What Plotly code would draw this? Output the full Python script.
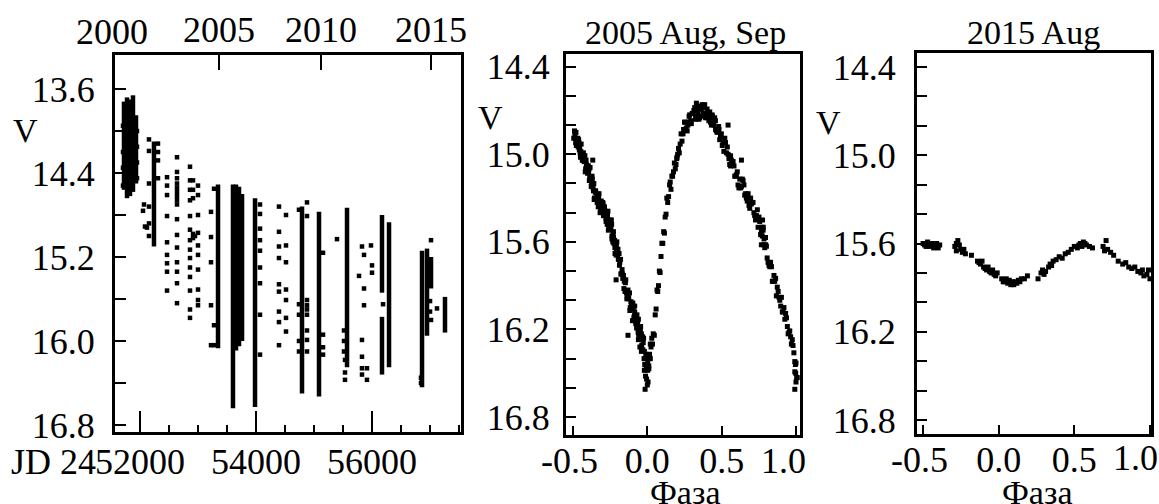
import plotly.graph_objects as go

# the page body margin is removed in the written page, so the figure fills the 1159x504 window
OX, OY = 0, 0
W, H = 1159, 504
FONT = "Liberation Serif, Times New Roman, serif"
FS = 34      # titles / labels
FT = 36      # tick labels

# ---------------- Panel 1: long-term light curve (JD 2450000+) ----------------
# dense season streaks: JD, brightest V, faintest V
seg_jd = [51724, 51776, 51828, 51879, 51931, 52241, 53345, 53603, 53655, 53707, 53759,
          53983, 54793, 55086, 55569, 56172, 56172, 56293, 56862, 56948, 57017, 57258]
seg_v_top = [13.72, 13.68, 13.70, 13.66, 13.85, 14.10, 14.51, 14.51, 14.51, 14.53, 14.60,
             14.64, 14.72, 14.77, 14.73, 14.80, 15.77, 14.87, 15.14, 15.12, 15.20, 15.58]
seg_v_bot = [14.56, 14.64, 14.62, 14.58, 14.50, 15.10, 16.07, 16.64, 16.09, 16.05, 16.00,
             16.63, 16.50, 16.53, 16.25, 15.54, 16.32, 16.25, 16.44, 15.95, 15.50, 15.92]

# isolated points, grouped by JD
grp_jd = [51707, 51948, 52052, 52069, 52086, 52120, 52155, 52310,
          52466, 52638, 52862, 52914, 52948, 53000,
          53224, 53276, 54069, 54396, 54517, 54741, 54879,
          55155, 55396, 55517, 55534,
          55776, 55827, 55862, 55913, 55982, 56000,
          56190, 56844, 57000, 57017, 57120]
grp_v = [
    [13.95, 14.20, 14.35, 14.52],
    [14.00, 14.15, 14.30, 14.45],
    [14.76], [14.70], [14.91], [14.92],
    [14.08, 14.19, 14.50, 14.72, 14.88, 15.00],
    [14.12, 14.20, 14.28, 14.45],
    [14.44, 14.52, 14.61, 14.81, 15.06, 15.18, 15.26, 15.34, 15.52],
    [14.25, 14.39, 14.45, 14.50, 14.54, 14.58, 14.62, 14.66, 14.70, 14.84, 14.99, 15.11, 15.25, 15.34, 15.45, 15.64],
    [14.34, 14.47, 14.56, 14.66, 14.81, 14.94, 15.04, 15.13, 15.21, 15.30, 15.39, 15.52, 15.70, 15.78],
    [14.47, 14.56, 14.64, 14.98, 15.02],
    [15.00],
    [14.52, 14.61, 14.80, 14.97, 15.09, 15.18, 15.32, 15.51, 15.61, 15.66],
    [14.77, 15.01, 15.25, 15.66, 16.04],
    [14.55, 15.85, 16.04],
    [14.70, 14.79, 14.93, 15.04, 15.14, 15.30, 15.45, 15.75, 16.13],
    [14.72, 14.96, 15.10, 15.21, 15.46, 15.53, 15.72, 15.82, 16.04],
    [14.80, 15.09, 15.25, 15.51, 15.61, 15.78, 15.91],
    [14.75, 15.65, 15.75, 16.00, 16.10],
    [14.68, 14.81, 15.61, 15.66, 15.70, 15.75, 15.90, 15.99, 16.10],
    [15.16, 15.94, 16.06, 16.13],
    [15.03],
    [15.90, 16.00, 16.10],
    [16.18, 16.30, 16.37],
    [15.38],
    [15.10, 15.99, 16.15, 16.26, 16.32],
    [15.18, 15.50, 15.66],
    [16.26, 16.37],
    [15.09],
    [15.28, 15.35],
    [15.65],
    [16.35, 16.40],
    [15.62, 15.72],
    [15.04, 15.80],
    [15.69],
]

jd_major = [52000, 54000, 56000]
jd_major_text = ["52000", "54000", "56000"]
jd_minor = [52500, 53000, 53500, 54500, 55000, 55500, 56500, 57000, 57500]
year_tick_jd = [53362, 55121, 57017]
year_text = ["2005", "2010", "2015"]
v1_ticks = [13.6, 14.0, 14.4, 14.8, 15.2, 15.6, 16.0, 16.4, 16.8]
v1_text = ["13.6", "", "14.4", "", "15.2", "", "16.0", "", "16.8"]

# ---------------- Panel 2: 2005 Aug, Sep phased ----------------
ph05 = [
    -0.495, -0.490, -0.485, -0.480, -0.475, -0.470, -0.465, -0.460, -0.455, -0.450, -0.445, -0.440,
    -0.435, -0.430, -0.425, -0.420, -0.415, -0.410, -0.405, -0.400, -0.395, -0.390, -0.385, -0.380,
    -0.375, -0.370, -0.365, -0.360, -0.355, -0.350, -0.345, -0.340, -0.335, -0.330, -0.325, -0.320,
    -0.315, -0.310, -0.305, -0.300, -0.295, -0.290, -0.285, -0.280, -0.275, -0.270, -0.265, -0.260,
    -0.255, -0.250, -0.245, -0.240, -0.235, -0.230, -0.225, -0.220, -0.215, -0.210, -0.205, -0.200,
    -0.195, -0.190, -0.185, -0.180, -0.175, -0.170, -0.165, -0.160, -0.155, -0.150, -0.145, -0.140,
    -0.135, -0.130, -0.125, -0.120, -0.115, -0.110, -0.105, -0.100, -0.095, -0.090, -0.085, -0.080,
    -0.075, -0.070, -0.065, -0.060, -0.055, -0.050, -0.045, -0.040, -0.035, -0.030, -0.025, -0.020,
    -0.015, -0.010, -0.005, 0.000, 0.005,
    -0.4875, -0.4775, -0.4675, -0.4575, -0.4475, -0.4375, -0.4275, -0.4175, -0.4075, -0.3975,
    -0.3875, -0.3775, -0.3675, -0.3575, -0.3475, -0.3375, -0.3275, -0.3175, -0.3075, -0.2975,
    -0.2875, -0.2775, -0.2675, -0.2575, -0.2475, -0.2375, -0.2275, -0.2175, -0.2075, -0.1975,
    -0.1875, -0.1775, -0.1675, -0.1575, -0.1475, -0.1375, -0.1275, -0.1175, -0.1075, -0.0975,
    -0.0875, -0.0775, -0.0675, -0.0575, -0.0475, -0.0375, -0.0275, -0.0175, -0.0075, 0.0025,
    -0.015, 0.000, -0.005, 0.010, 0.015, 0.020, -0.020, -0.040, -0.060, -0.130, -0.210, -0.367,
    -0.100, -0.050,
    -0.298, -0.288, -0.278, -0.268, -0.258, -0.248, -0.238, -0.228, -0.218, -0.208, -0.262, -0.242,
    -0.232, -0.482, -0.462, -0.452, -0.432, -0.412, -0.402, -0.392, -0.372, -0.362,
    -0.085, -0.072, -0.062, -0.045, -0.032, -0.022, -0.012, 0.002, 0.008,
    0.010, 0.015, 0.020, 0.025, 0.030, 0.035, 0.040, 0.047, 0.053, 0.059, 0.065, 0.070,
    0.075, 0.081, 0.086, 0.092, 0.098, 0.104, 0.110, 0.115, 0.120, 0.126, 0.131, 0.137,
    0.143, 0.150, 0.159, 0.170, 0.182, 0.193, 0.204, 0.215, 0.227, 0.240, 0.250, 0.262,
    0.273, 0.285, 0.296, 0.308, 0.319, 0.330, 0.341, 0.352, 0.363, 0.375, 0.386, 0.397,
    0.408, 0.420, 0.431, 0.442, 0.453, 0.464, 0.476, 0.487, 0.498, 0.509, 0.521, 0.532,
    0.543, 0.554, 0.565, 0.577, 0.588, 0.599, 0.610, 0.622, 0.633, 0.644, 0.655, 0.666,
    0.678, 0.689, 0.700, 0.711, 0.722, 0.734, 0.745, 0.756, 0.767, 0.779, 0.790, 0.801,
    0.812, 0.824, 0.835, 0.846, 0.857, 0.868, 0.880, 0.891, 0.902, 0.913, 0.925, 0.936,
    0.947, 0.958, 0.969, 0.980, 0.992, 1.000, 1.005, 1.008,
    0.165, 0.188, 0.210, 0.233, 0.256, 0.279, 0.302, 0.325, 0.347, 0.369, 0.392, 0.414,
    0.437, 0.459, 0.482, 0.504, 0.526, 0.549, 0.571, 0.594, 0.616, 0.639, 0.661, 0.684,
    0.706, 0.728, 0.751, 0.773, 0.796, 0.818, 0.841, 0.863, 0.886, 0.908, 0.930, 0.953,
    0.975, 0.996,
    0.268, 0.281, 0.292, 0.313, 0.324, 0.336, 0.344, 0.357, 0.368, 0.380, 0.392, 0.402,
    0.414, 0.425, 0.436, 0.448, 0.458, 0.470, 0.480, 0.492,
    0.515, 0.538, 0.560, 0.583, 0.605, 0.628, 0.650, 0.672, 0.695, 0.717, 0.740, 0.762,
    0.772, 0.784, 0.795, 0.806, 0.829, 0.852, 0.874, 0.897, 0.919, 0.942, 0.964, 0.986, 0.998,
    0.154, 0.176, 0.198, 0.221, 0.244,
    0.330, 0.543, 0.633, 0.767, 0.992, 0.992, 0.560, 0.200, 1.000, 0.780, 0.785, 0.775,
]
v05 = [
    14.89, 14.84, 14.89, 14.85, 14.94, 14.91, 14.95, 14.92, 14.96, 15.02, 14.93, 15.02,
    15.04, 14.99, 15.05, 15.01, 15.10, 15.07, 15.11, 15.08, 15.12, 15.18, 15.09, 15.18,
    15.21, 15.17, 15.23, 15.20, 15.30, 15.26, 15.30, 15.27, 15.30, 15.36, 15.27, 15.35,
    15.37, 15.32, 15.37, 15.33, 15.42, 15.38, 15.42, 15.39, 15.42, 15.48, 15.39, 15.47,
    15.49, 15.45, 15.51, 15.48, 15.58, 15.55, 15.61, 15.59, 15.62, 15.69, 15.60, 15.69,
    15.72, 15.68, 15.74, 15.72, 15.82, 15.79, 15.85, 15.83, 15.87, 15.94, 15.86, 15.95,
    15.98, 15.93, 15.99, 15.95, 16.05, 16.01, 16.05, 16.02, 16.06, 16.12, 16.04, 16.12,
    16.15, 16.10, 16.16, 16.13, 16.23, 16.20, 16.25, 16.23, 16.27, 16.34, 16.26, 16.35,
    16.40, 16.37, 16.46, 16.45, 16.56,
    14.86, 14.94, 14.89, 14.97, 14.98, 15.04, 15.01, 15.12, 15.09, 15.08,
    15.16, 15.22, 15.21, 15.31, 15.25, 15.33, 15.30, 15.40, 15.36, 15.34,
    15.42, 15.46, 15.43, 15.51, 15.51, 15.58, 15.57, 15.68, 15.65, 15.65,
    15.76, 15.82, 15.82, 15.92, 15.88, 15.99, 15.96, 16.07, 16.03, 16.02,
    16.11, 16.16, 16.14, 16.24, 16.20, 16.31, 16.29, 16.44, 16.46, 16.42,
    16.61, 16.58, 16.54, 16.45, 16.38, 16.30, 16.48, 16.35, 16.27, 16.24, 15.86, 15.04,
    16.14, 16.32,
    15.40, 15.36, 15.44, 15.40, 15.50, 15.47, 15.56, 15.53, 15.64, 15.62, 15.52, 15.45,
    15.60, 14.92, 14.90, 14.99, 15.03, 15.04, 15.13, 15.10, 15.15, 15.25,
    16.08, 16.19, 16.22, 16.18, 16.25, 16.40, 16.52, 16.48, 16.40,
    16.47, 16.37, 16.40, 16.32, 16.26, 16.30, 16.23, 16.24, 16.10, 16.06, 15.93, 15.94,
    15.90, 15.80, 15.81, 15.70, 15.61, 15.61, 15.53, 15.54, 15.43, 15.41, 15.30, 15.33,
    15.29, 15.21, 15.24, 15.15, 15.06, 15.07, 15.00, 14.99, 14.86, 14.86, 14.78, 14.82,
    14.80, 14.73, 14.79, 14.72, 14.68, 14.74, 14.71, 14.75, 14.69, 14.72, 14.66, 14.74,
    14.75, 14.71, 14.80, 14.76, 14.75, 14.84, 14.83, 14.90, 14.86, 14.92, 14.89, 14.99,
    15.00, 15.07, 15.04, 15.05, 15.15, 15.14, 15.21, 15.17, 15.22, 15.18, 15.28, 15.30,
    15.27, 15.37, 15.34, 15.33, 15.42, 15.42, 15.50, 15.46, 15.53, 15.52, 15.64, 15.63,
    15.74, 15.77, 15.77, 15.87, 15.87, 15.97, 15.94, 16.00, 15.98, 16.08, 16.13, 16.12,
    16.23, 16.21, 16.30, 16.31, 16.42, 16.43, 16.53, 16.53,
    15.15, 15.10, 14.96, 14.91, 14.78, 14.78, 14.72, 14.74, 14.76, 14.66, 14.72, 14.77,
    14.74, 14.83, 14.83, 14.94, 14.92, 15.03, 15.05, 15.15, 15.23, 15.17, 15.27, 15.35,
    15.33, 15.45, 15.43, 15.56, 15.62, 15.76, 15.87, 15.85, 15.98, 16.08, 16.09, 16.22,
    16.27, 16.44,
    14.84, 14.74, 14.77, 14.70, 14.76, 14.68, 14.74, 14.67, 14.74, 14.68, 14.75, 14.69,
    14.72, 14.78, 14.73, 14.80, 14.77, 14.85, 14.81, 14.88,
    14.98, 14.95, 15.01, 15.08, 15.12, 15.23, 15.21, 15.32, 15.30, 15.40, 15.38, 15.55,
    15.50, 15.62, 15.57, 15.71, 15.74, 15.83, 15.91, 16.04, 16.05, 16.18, 16.25, 16.36, 16.50,
    15.19, 15.12, 15.03, 14.93, 14.83,
    14.65, 14.80, 15.04, 15.62, 16.61, 16.49, 15.08, 15.02, 16.56, 15.50, 15.58, 15.45,
]

# ---------------- Panel 3: 2015 Aug phased ----------------
ph15 = [-0.50, -0.49, -0.48, -0.47, -0.46, -0.45, -0.44, -0.43, -0.42, -0.41, -0.40, -0.39,
        -0.29, -0.28, -0.28, -0.27, -0.26, -0.25, -0.24, -0.23, -0.22,
        -0.18, -0.14, -0.13, -0.12, -0.11, -0.10, -0.09, -0.08, -0.07, -0.06, -0.05, -0.04, -0.03, -0.02, -0.01,
        0.02, 0.03, 0.04, 0.05, 0.06, 0.07, 0.08, 0.09, 0.10, 0.11, 0.12, 0.13, 0.14, 0.15, 0.17, 0.19,
        0.26, 0.28, 0.29, 0.30, 0.31, 0.33, 0.34, 0.35, 0.36, 0.38, 0.40, 0.42, 0.44, 0.46, 0.48, 0.50, 0.52,
        0.53, 0.54, 0.55, 0.56, 0.57, 0.58, 0.60, 0.62,
        0.69, 0.70, 0.71, 0.72, 0.74, 0.76,
        0.79, 0.82, 0.84, 0.86, 0.88, 0.90, 0.92, 0.94, 0.95, 0.96, 0.98, 1.00, 0.99]
v15 = [15.60, 15.61, 15.62, 15.59, 15.62, 15.61, 15.60, 15.63, 15.62, 15.60, 15.63, 15.61,
       15.62, 15.65, 15.60, 15.58, 15.61, 15.64, 15.66, 15.64, 15.67,
       15.68, 15.72, 15.73, 15.74, 15.72, 15.76, 15.77, 15.78, 15.76, 15.79, 15.80, 15.78, 15.81, 15.82, 15.80,
       15.84, 15.86, 15.86, 15.84, 15.87, 15.85, 15.88, 15.86, 15.88, 15.86, 15.87, 15.85, 15.86, 15.84, 15.84, 15.82,
       15.84, 15.80, 15.78, 15.81, 15.79, 15.76, 15.74, 15.75, 15.72, 15.71, 15.69, 15.70, 15.67, 15.66, 15.64, 15.62, 15.63,
       15.61, 15.60, 15.62, 15.59, 15.60, 15.61, 15.62, 15.63,
       15.62, 15.65, 15.58, 15.64, 15.66, 15.68,
       15.72, 15.74, 15.73, 15.76, 15.77, 15.76, 15.79, 15.80, 15.78, 15.82, 15.81, 15.84, 15.78]

ph_ticks = [-0.5, 0.0, 0.5, 1.0]
ph_text = ["-0.5\u2009", "0.0", "0.5", "1.0\u2002\u2009"]
ph_text3 = ["-0.5\u2009", "0.0", "0.5", ""]   # last label placed inside the window below
v23_ticks = [14.4, 14.6, 14.8, 15.0, 15.2, 15.4, 15.6, 15.8, 16.0, 16.2, 16.4, 16.6, 16.8]
v23_text = ["14.4", "", "", "15.0", "", "", "15.6", "", "", "16.2", "", "", "16.8"]

# ---------------- figure ----------------
def px(x):
    return (x - OX) / W


def py(y):
    return 1 - (y - OY) / H


fig = go.Figure()

sx, sy = [], []
for j, a, b in zip(seg_jd, seg_v_top, seg_v_bot):
    sx += [j, j, None]
    sy += [a, b, None]
fig.add_trace(go.Scatter(x=sx, y=sy, mode="lines", line=dict(color="black", width=4.5),
                         xaxis="x", yaxis="y", hoverinfo="skip"))

px1, py1 = [], []
for j, vs in zip(grp_jd, grp_v):
    for v in vs:
        px1.append(j)
        py1.append(v)
mk = dict(symbol="square", size=4.5, color="black", line=dict(width=0))
mk2 = dict(symbol="square", size=5, color="black", line=dict(width=0))
fig.add_trace(go.Scatter(x=px1, y=py1, mode="markers", marker=mk, xaxis="x", yaxis="y"))
fig.add_trace(go.Scatter(x=[seg_jd[0]], y=[seg_v_top[0]], mode="markers",
                         marker=dict(size=1, opacity=0), xaxis="x4", yaxis="y", hoverinfo="skip"))
fig.add_trace(go.Scatter(x=ph05, y=v05, mode="markers", marker=mk2, xaxis="x2", yaxis="y2"))
fig.add_trace(go.Scatter(x=ph15, y=v15, mode="markers", marker=mk2, xaxis="x3", yaxis="y3"))

tf = dict(family=FONT, size=FT, color="black")
lf = dict(family=FONT, size=FS, color="black")
ax_common = dict(showline=True, linecolor="black", linewidth=3, mirror=True, showgrid=False,
                 zeroline=False, ticks="inside", tickcolor="black", tickwidth=2, tickfont=tf,
                 automargin=False)

x1r = [51569, 57534]
fig.update_layout(
    width=W, height=H, margin=dict(l=0, r=0, t=0, b=0, autoexpand=False),
    paper_bgcolor="white", plot_bgcolor="white", showlegend=False,
    xaxis=dict(ax_common, domain=[px(115), px(461)], range=x1r, anchor="y",
               tickmode="array", tickvals=jd_major, ticktext=jd_major_text, ticklen=21,
               ticklabelstandoff=-4,
               minor=dict(tickmode="array", tickvals=jd_minor, ticks="inside", ticklen=7,
                          tickwidth=2, tickcolor="black", showgrid=False)),
    xaxis4=dict(showline=False, showgrid=False, zeroline=False, overlaying="x", side="top",
                anchor="y", range=x1r, ticks="inside", ticklen=15, tickwidth=2, tickcolor="black",
                tickmode="array", tickvals=year_tick_jd, ticktext=year_text, tickfont=tf,
                ticklabelstandoff=5, automargin=False),
    yaxis=dict(ax_common, domain=[py(432), py(55)], range=[16.867, 13.276], anchor="x",
               tickmode="array", tickvals=v1_ticks, ticktext=v1_text, ticklen=11,
               ticklabelstandoff=10),
    xaxis2=dict(ax_common, domain=[px(566), px(800)], range=[-0.547, 1.027], anchor="y2",
                tickmode="array", tickvals=ph_ticks, ticktext=ph_text, ticklen=9,
                ticklabelstandoff=-8),
    yaxis2=dict(ax_common, domain=[py(435), py(54)], range=[16.923, 14.313], anchor="x2",
                tickmode="array", tickvals=v23_ticks, ticktext=v23_text, ticklen=10,
                ticklabelstandoff=6),
    xaxis3=dict(ax_common, domain=[px(917), px(1151)], range=[-0.54, 1.007], anchor="y3",
                tickmode="array", tickvals=ph_ticks, ticktext=ph_text3, ticklen=9,
                ticklabelstandoff=-8),
    yaxis3=dict(ax_common, domain=[py(434), py(53)], range=[16.895, 14.305], anchor="x3",
                tickmode="array", tickvals=v23_ticks, ticktext=v23_text, ticklen=10,
                ticklabelstandoff=11),
)

def ann(text, x, y, font, xanchor="center"):
    fig.add_annotation(text=text, x=px(x), y=py(y), xref="paper", yref="paper",
                       showarrow=False, xanchor=xanchor, yanchor="middle", font=font)

ann("2000", 112, 32, tf)
ann("JD 24", 98, 462, tf, xanchor="right")
ann("1.0", 1135, 458, tf)
ann("V", 25, 130, lf)
ann("V", 490, 117, lf)
ann("V", 828, 122, lf)
ann("2005 Aug, Sep", 685, 33, lf)
ann("2015 Aug", 1033, 33, lf)
ann("Фаза", 685, 492, lf)
ann("Фаза", 1037, 492, lf)

fig.write_html(
    "out.html",
    config={"displayModeBar": False},
    post_script="document.documentElement.style.margin='0';"
                "document.documentElement.style.overflow='hidden';"
                "document.body.style.margin='0';document.body.style.overflow='hidden';",
)
